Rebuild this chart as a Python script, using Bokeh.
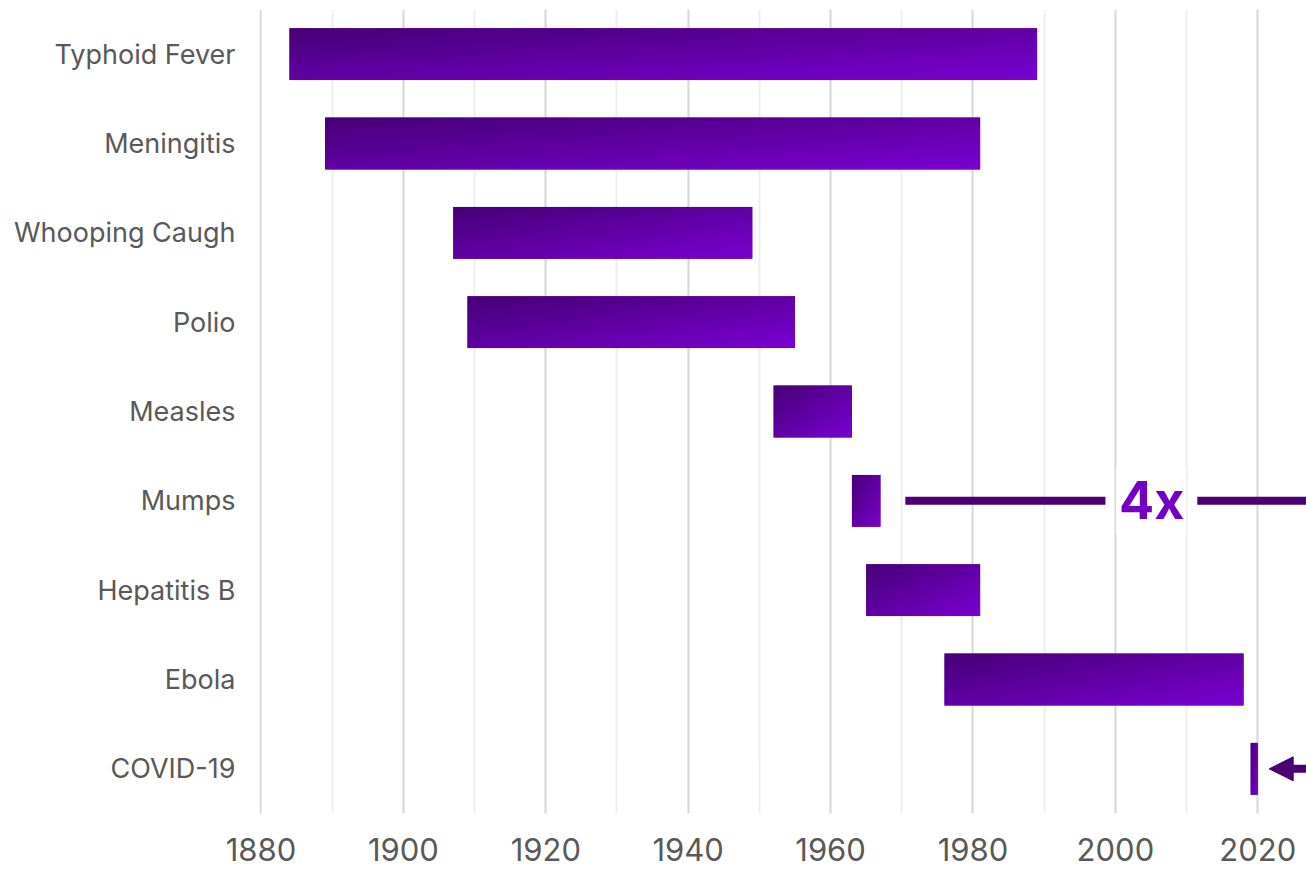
import numpy as np
from bokeh.plotting import figure
from bokeh.models import (FactorRange, Range1d, SingleIntervalTicker, Arrow, NormalHead,
                          Label, BoxAnnotation)
from bokeh.embed import file_html
from bokeh.resources import INLINE

# ---- data ----
diseases = ["Typhoid Fever", "Meningitis", "Whooping Caugh", "Polio", "Measles",
            "Mumps", "Hepatitis B", "Ebola", "COVID-19"]
start_year = [1884, 1889, 1907, 1909, 1952, 1963, 1965, 1976, 2019]
end_year = [1989, 1981, 1949, 1955, 1963, 1967, 1981, 2018, 2020]
annotation_text = "4x"

# ---- styling ----
C_DARK = (0x46, 0x00, 0x76)
C_LIGHT = (0x7a, 0x00, 0xd2)
LINE_COLOR = "#4a0074"
TEXT_COLOR = "#595959"
FONT = "Inter"
BAR_H = 0.58

factors = list(reversed(diseases))  # bottom-to-top
p = figure(width=1306, height=869, output_backend="svg", toolbar_location=None,
           x_range=Range1d(1879.79, 2026.84),
           y_range=FactorRange(factors=factors, range_padding=0, factor_padding=0),
           min_border_left=259, min_border_right=0, min_border_top=9, min_border_bottom=56)
p.outline_line_color = None
p.background_fill_color = "white"
p.border_fill_color = "white"

# x axis & grid
p.xaxis.ticker = SingleIntervalTicker(interval=20, num_minor_ticks=2)
p.xaxis.axis_line_color = None
p.xaxis.major_tick_line_color = None
p.xaxis.minor_tick_line_color = None
p.xaxis.major_label_text_font = FONT
p.xaxis.major_label_text_font_size = "31px"
p.xaxis.major_label_text_color = TEXT_COLOR
p.xaxis.major_label_standoff = 18
p.xgrid.grid_line_color = "#d9d9d9"
p.xgrid.grid_line_width = 2
p.xgrid.minor_grid_line_color = "#eeeeee"
p.xgrid.minor_grid_line_width = 2
p.ygrid.grid_line_color = None

# y axis
p.yaxis.axis_line_color = None
p.yaxis.major_tick_line_color = None
p.yaxis.minor_tick_line_color = None
p.yaxis.major_label_text_font = FONT
p.yaxis.major_label_text_font_size = "27px"
p.yaxis.major_label_text_color = TEXT_COLOR
p.yaxis.major_label_standoff = 18

# bars: fallback flat fill + diagonal gradient image
mid = "#%02x%02x%02x" % tuple((a + b) // 2 for a, b in zip(C_DARK, C_LIGHT))
p.hbar(y=diseases, left=start_year, right=end_year, height=BAR_H,
       fill_color=mid, line_color=None)

W, H = 240, 48
u = np.linspace(0, 1, W)[None, :]
v_top = 1 - np.linspace(0, 1, H)[:, None]  # row 0 is bottom
t = (u + v_top) / 2.0
img = np.empty((H, W), dtype=np.uint32)
view = img.view(dtype=np.uint8).reshape((H, W, 4))
for k in range(3):
    view[:, :, k] = np.round(C_DARK[k] + (C_LIGHT[k] - C_DARK[k]) * t).astype(np.uint8)
view[:, :, 3] = 255

ys = [factors.index(d) + 0.5 - BAR_H / 2 for d in diseases]
durs = [e - s for s, e in zip(start_year, end_year)]
p.image_rgba(image=[img] * len(diseases), x=start_year, y=ys, dw=durs,
             dh=[BAR_H] * len(diseases))

# ---- "4x" annotation ----
mumps_y = factors.index("Mumps") + 0.5
covid_y = factors.index("COVID-19") + 0.5
p.segment(x0=[1970.5, 2011.5], y0=[mumps_y, mumps_y], x1=[1998.6, 2030], y1=[mumps_y, mumps_y],
          line_color=LINE_COLOR, line_width=8, line_cap="butt")
p.add_layout(BoxAnnotation(left=2000.1, right=2009.9, bottom=mumps_y - 0.37, top=mumps_y + 0.37,
                           fill_color="white", fill_alpha=1.0, line_color=None, level="glyph"))
p.add_layout(Label(x=2005.1, y=mumps_y, text=annotation_text, text_align="center",
                   text_baseline="middle", text_font=FONT, text_font_style="bold",
                   text_font_size="52px", text_color="#7200c6"))

# arrow pointing at COVID-19
p.add_layout(Arrow(x_start=2032, y_start=covid_y, x_end=2021.6, y_end=covid_y,
                   line_color=LINE_COLOR, line_width=8,
                   end=NormalHead(size=24, fill_color=LINE_COLOR, line_color=LINE_COLOR,
                                  line_width=1)))

open("out.html", "w").write(file_html(p, INLINE))
